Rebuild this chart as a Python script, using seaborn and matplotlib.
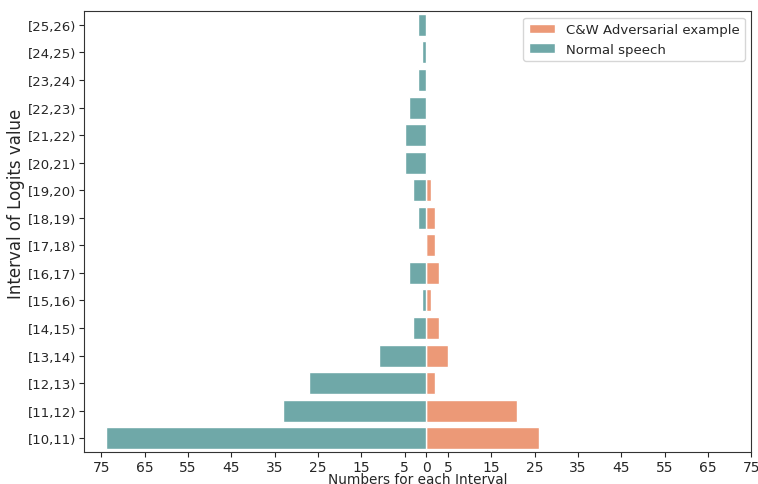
import numpy as np
import pandas as pd
import matplotlib
matplotlib.use('Agg')
import matplotlib.pyplot as plt
import seaborn as sns

# Data
intervals = ['[10,11)', '[11,12)', '[12,13)', '[13,14)', '[14,15)', '[15,16)',
             '[16,17)', '[17,18)', '[18,19)', '[19,20)', '[20,21)', '[21,22)',
             '[22,23)', '[23,24)', '[24,25)', '[25,26)']
normal_speech = [74, 33, 27, 11, 3, 1, 4, 0, 2, 3, 5, 5, 4, 2, 1, 2]
cw_adversarial = [26, 21, 2, 5, 3, 1, 3, 2, 2, 1, 0, 0, 0, 0, 0, 0]

df = pd.DataFrame({'interval': intervals,
                   'normal': [-v for v in normal_speech],
                   'cw': cw_adversarial})

sns.set_style("ticks")
plt.rcParams['font.family'] = ['DejaVu Sans']

fig, ax = plt.subplots(figsize=(7.58, 4.85), dpi=100)
order = intervals[::-1]

sns.barplot(data=df, x='cw', y='interval', order=order, orient='h',
            color='#ec9977', saturation=1, edgecolor='white', linewidth=1,
            label='C&W Adversarial example', ax=ax)
sns.barplot(data=df, x='normal', y='interval', order=order, orient='h',
            color='#6fa8a8', saturation=1, edgecolor='white', linewidth=1,
            label='Normal speech', ax=ax)

xt = list(range(-75, 0, 10)) + [0] + list(range(5, 80, 10))
ax.set_xticks(xt)
ax.set_xticklabels([str(abs(t)) for t in xt], fontsize=10)
ax.set_xlim(-79, 75)
ax.tick_params(axis='y', labelsize=9.5, pad=2)
ax.tick_params(axis='x', pad=2)

ax.set_xlabel('Numbers for each Interval', fontsize=9.8, labelpad=-1)
ax.set_ylabel('Interval of Logits value', fontsize=12)
ax.yaxis.set_label_coords(-0.088, 0.565)

for s in ax.spines.values():
    s.set_visible(True)
    s.set_color('#333333')

ax.legend(loc='upper right', fontsize=9.5)

plt.subplots_adjust(left=0.111, right=0.991, top=0.975, bottom=0.066)
plt.savefig('out.png', dpi=100)
